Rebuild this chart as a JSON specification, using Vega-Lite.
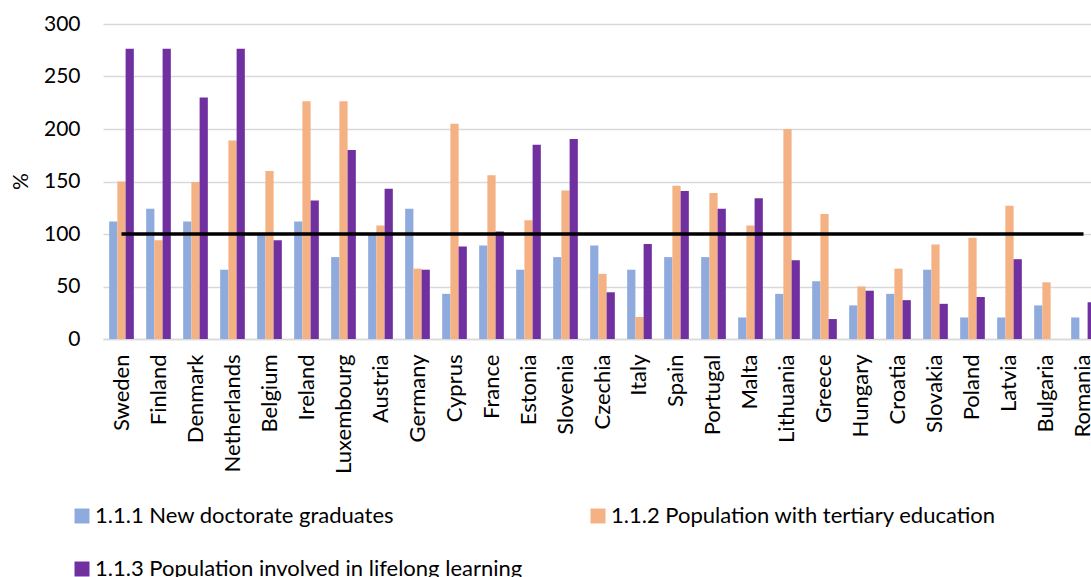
{
  "$schema": "https://vega.github.io/schema/vega-lite/v6.json",
  "autosize": "none",
  "width": 999,
  "height": 315,
  "padding": {"left": 103, "top": 24, "right": 0, "bottom": 238},
  "background": "white",
  "datasets": {
    "indicators": [
      {"country": "Sweden", "indicator": "1.1.1 New doctorate graduates", "value": 112},
      {"country": "Sweden", "indicator": "1.1.2 Population with tertiary education", "value": 150},
      {"country": "Sweden", "indicator": "1.1.3 Population involved in lifelong learning", "value": 276.5},
      {"country": "Finland", "indicator": "1.1.1 New doctorate graduates", "value": 124},
      {"country": "Finland", "indicator": "1.1.2 Population with tertiary education", "value": 94},
      {"country": "Finland", "indicator": "1.1.3 Population involved in lifelong learning", "value": 276.5},
      {"country": "Denmark", "indicator": "1.1.1 New doctorate graduates", "value": 112},
      {"country": "Denmark", "indicator": "1.1.2 Population with tertiary education", "value": 149.5},
      {"country": "Denmark", "indicator": "1.1.3 Population involved in lifelong learning", "value": 230},
      {"country": "Netherlands", "indicator": "1.1.1 New doctorate graduates", "value": 66},
      {"country": "Netherlands", "indicator": "1.1.2 Population with tertiary education", "value": 189},
      {"country": "Netherlands", "indicator": "1.1.3 Population involved in lifelong learning", "value": 276.5},
      {"country": "Belgium", "indicator": "1.1.1 New doctorate graduates", "value": 100.5},
      {"country": "Belgium", "indicator": "1.1.2 Population with tertiary education", "value": 160},
      {"country": "Belgium", "indicator": "1.1.3 Population involved in lifelong learning", "value": 94},
      {"country": "Ireland", "indicator": "1.1.1 New doctorate graduates", "value": 112},
      {"country": "Ireland", "indicator": "1.1.2 Population with tertiary education", "value": 226.5},
      {"country": "Ireland", "indicator": "1.1.3 Population involved in lifelong learning", "value": 132},
      {"country": "Luxembourg", "indicator": "1.1.1 New doctorate graduates", "value": 78},
      {"country": "Luxembourg", "indicator": "1.1.2 Population with tertiary education", "value": 226.5},
      {"country": "Luxembourg", "indicator": "1.1.3 Population involved in lifelong learning", "value": 180},
      {"country": "Austria", "indicator": "1.1.1 New doctorate graduates", "value": 100.5},
      {"country": "Austria", "indicator": "1.1.2 Population with tertiary education", "value": 108},
      {"country": "Austria", "indicator": "1.1.3 Population involved in lifelong learning", "value": 143},
      {"country": "Germany", "indicator": "1.1.1 New doctorate graduates", "value": 124},
      {"country": "Germany", "indicator": "1.1.2 Population with tertiary education", "value": 67},
      {"country": "Germany", "indicator": "1.1.3 Population involved in lifelong learning", "value": 66},
      {"country": "Cyprus", "indicator": "1.1.1 New doctorate graduates", "value": 43},
      {"country": "Cyprus", "indicator": "1.1.2 Population with tertiary education", "value": 205},
      {"country": "Cyprus", "indicator": "1.1.3 Population involved in lifelong learning", "value": 88},
      {"country": "France", "indicator": "1.1.1 New doctorate graduates", "value": 89},
      {"country": "France", "indicator": "1.1.2 Population with tertiary education", "value": 156},
      {"country": "France", "indicator": "1.1.3 Population involved in lifelong learning", "value": 102.5},
      {"country": "Estonia", "indicator": "1.1.1 New doctorate graduates", "value": 66},
      {"country": "Estonia", "indicator": "1.1.2 Population with tertiary education", "value": 113},
      {"country": "Estonia", "indicator": "1.1.3 Population involved in lifelong learning", "value": 185},
      {"country": "Slovenia", "indicator": "1.1.1 New doctorate graduates", "value": 78},
      {"country": "Slovenia", "indicator": "1.1.2 Population with tertiary education", "value": 141.5},
      {"country": "Slovenia", "indicator": "1.1.3 Population involved in lifelong learning", "value": 190.5},
      {"country": "Czechia", "indicator": "1.1.1 New doctorate graduates", "value": 89},
      {"country": "Czechia", "indicator": "1.1.2 Population with tertiary education", "value": 62},
      {"country": "Czechia", "indicator": "1.1.3 Population involved in lifelong learning", "value": 44.5},
      {"country": "Italy", "indicator": "1.1.1 New doctorate graduates", "value": 66},
      {"country": "Italy", "indicator": "1.1.2 Population with tertiary education", "value": 21},
      {"country": "Italy", "indicator": "1.1.3 Population involved in lifelong learning", "value": 90.5},
      {"country": "Spain", "indicator": "1.1.1 New doctorate graduates", "value": 78},
      {"country": "Spain", "indicator": "1.1.2 Population with tertiary education", "value": 146},
      {"country": "Spain", "indicator": "1.1.3 Population involved in lifelong learning", "value": 141},
      {"country": "Portugal", "indicator": "1.1.1 New doctorate graduates", "value": 78},
      {"country": "Portugal", "indicator": "1.1.2 Population with tertiary education", "value": 139},
      {"country": "Portugal", "indicator": "1.1.3 Population involved in lifelong learning", "value": 124},
      {"country": "Malta", "indicator": "1.1.1 New doctorate graduates", "value": 20.5},
      {"country": "Malta", "indicator": "1.1.2 Population with tertiary education", "value": 108},
      {"country": "Malta", "indicator": "1.1.3 Population involved in lifelong learning", "value": 134},
      {"country": "Lithuania", "indicator": "1.1.1 New doctorate graduates", "value": 43},
      {"country": "Lithuania", "indicator": "1.1.2 Population with tertiary education", "value": 200},
      {"country": "Lithuania", "indicator": "1.1.3 Population involved in lifelong learning", "value": 75},
      {"country": "Greece", "indicator": "1.1.1 New doctorate graduates", "value": 55},
      {"country": "Greece", "indicator": "1.1.2 Population with tertiary education", "value": 119},
      {"country": "Greece", "indicator": "1.1.3 Population involved in lifelong learning", "value": 19},
      {"country": "Hungary", "indicator": "1.1.1 New doctorate graduates", "value": 32},
      {"country": "Hungary", "indicator": "1.1.2 Population with tertiary education", "value": 50},
      {"country": "Hungary", "indicator": "1.1.3 Population involved in lifelong learning", "value": 46},
      {"country": "Croatia", "indicator": "1.1.1 New doctorate graduates", "value": 43},
      {"country": "Croatia", "indicator": "1.1.2 Population with tertiary education", "value": 67},
      {"country": "Croatia", "indicator": "1.1.3 Population involved in lifelong learning", "value": 37},
      {"country": "Slovakia", "indicator": "1.1.1 New doctorate graduates", "value": 66},
      {"country": "Slovakia", "indicator": "1.1.2 Population with tertiary education", "value": 90},
      {"country": "Slovakia", "indicator": "1.1.3 Population involved in lifelong learning", "value": 33.5},
      {"country": "Poland", "indicator": "1.1.1 New doctorate graduates", "value": 20.5},
      {"country": "Poland", "indicator": "1.1.2 Population with tertiary education", "value": 96.5},
      {"country": "Poland", "indicator": "1.1.3 Population involved in lifelong learning", "value": 40},
      {"country": "Latvia", "indicator": "1.1.1 New doctorate graduates", "value": 20.5},
      {"country": "Latvia", "indicator": "1.1.2 Population with tertiary education", "value": 127},
      {"country": "Latvia", "indicator": "1.1.3 Population involved in lifelong learning", "value": 76},
      {"country": "Bulgaria", "indicator": "1.1.1 New doctorate graduates", "value": 32},
      {"country": "Bulgaria", "indicator": "1.1.2 Population with tertiary education", "value": 54},
      {"country": "Bulgaria", "indicator": "1.1.3 Population involved in lifelong learning", "value": null},
      {"country": "Romania", "indicator": "1.1.1 New doctorate graduates", "value": 20.5},
      {"country": "Romania", "indicator": "1.1.2 Population with tertiary education", "value": null},
      {"country": "Romania", "indicator": "1.1.3 Population involved in lifelong learning", "value": 35}
    ],
    "euLevel": [
      {"country": "Sweden", "value": 100}, {"country": "Finland", "value": 100},
      {"country": "Denmark", "value": 100}, {"country": "Netherlands", "value": 100},
      {"country": "Belgium", "value": 100}, {"country": "Ireland", "value": 100},
      {"country": "Luxembourg", "value": 100}, {"country": "Austria", "value": 100},
      {"country": "Germany", "value": 100}, {"country": "Cyprus", "value": 100},
      {"country": "France", "value": 100}, {"country": "Estonia", "value": 100},
      {"country": "Slovenia", "value": 100}, {"country": "Czechia", "value": 100},
      {"country": "Italy", "value": 100}, {"country": "Spain", "value": 100},
      {"country": "Portugal", "value": 100}, {"country": "Malta", "value": 100},
      {"country": "Lithuania", "value": 100}, {"country": "Greece", "value": 100},
      {"country": "Hungary", "value": 100}, {"country": "Croatia", "value": 100},
      {"country": "Slovakia", "value": 100}, {"country": "Poland", "value": 100},
      {"country": "Latvia", "value": 100}, {"country": "Bulgaria", "value": 100},
      {"country": "Romania", "value": 100}
    ]
  },
  "config": {
    "view": {"stroke": null},
    "font": "Lato",
    "axis": {"labelFont": "Lato", "titleFont": "Lato", "labelColor": "#000000", "titleColor": "#000000"},
    "legend": {"labelFont": "Lato", "labelColor": "#000000"}
  },
  "layer": [
    {
      "data": {"name": "indicators"},
      "mark": {"type": "bar"},
      "encoding": {
        "x": {
          "field": "country",
          "type": "nominal",
          "sort": null,
          "scale": {"paddingInner": 0.3333, "paddingOuter": 0.1667},
          "axis": {
            "title": null,
            "labelAngle": -90,
            "labelFontSize": 22,
            "labelPadding": 15,
            "ticks": false,
            "domain": true,
            "domainColor": "#D9D9D9",
            "domainWidth": 1.5,
            "grid": false
          }
        },
        "xOffset": {
          "field": "indicator",
          "type": "nominal",
          "scale": {"paddingInner": 0, "paddingOuter": 0}
        },
        "y": {
          "field": "value",
          "type": "quantitative",
          "scale": {"domain": [0, 300], "nice": false},
          "axis": {
            "title": "%",
            "titleFontSize": 21,
            "titleFontWeight": "normal",
            "titleAngle": -90,
            "titleX": -82,
            "titleY": 157,
            "titleAlign": "center",
            "titleBaseline": "middle",
            "values": [0, 50, 100, 150, 200, 250, 300],
            "labelFontSize": 21,
            "labelPadding": 23,
            "ticks": false,
            "domain": false,
            "grid": true,
            "gridColor": "#D9D9D9",
            "gridWidth": 1.5
          }
        },
        "color": {
          "field": "indicator",
          "type": "nominal",
          "scale": {
            "domain": [
              "1.1.1 New doctorate graduates",
              "1.1.2 Population with tertiary education",
              "1.1.3 Population involved in lifelong learning"
            ],
            "range": ["#8FAADC", "#F4B183", "#7030A0"]
          },
          "legend": {
            "title": null,
            "orient": "none",
            "legendX": -32,
            "legendY": 481,
            "direction": "horizontal",
            "columns": 2,
            "columnPadding": 64,
            "rowPadding": 31,
            "symbolType": "square",
            "symbolSize": 225,
            "symbolStrokeWidth": 0,
            "labelFontSize": 22,
            "labelOffset": 2,
            "labelLimit": 600
          }
        }
      }
    },
    {
      "data": {"name": "euLevel"},
      "mark": {"type": "line", "color": "#000000", "strokeWidth": 3.5},
      "encoding": {
        "x": {"field": "country", "type": "nominal", "sort": null},
        "y": {"field": "value", "type": "quantitative"}
      }
    }
  ]
}
